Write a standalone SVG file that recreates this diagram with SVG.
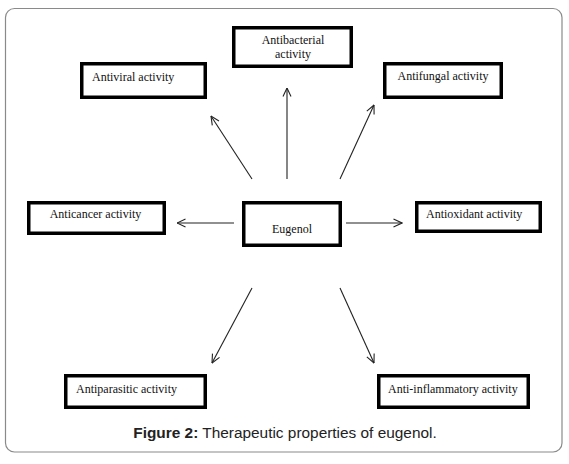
<svg xmlns="http://www.w3.org/2000/svg" width="569" height="464" viewBox="0 0 569 464">
  <style>
    .box { fill: #fff; stroke: #000; stroke-width: 3.5; }
    .lbl { font-family: "Liberation Serif", "Times New Roman", serif; font-size: 12px; fill: #111; }
    .mid { text-anchor: middle; }
    .conn { stroke: #222; stroke-width: 1.1; fill: none; marker-end: url(#arr); }
    .cap { font-family: "Liberation Sans", Arial, sans-serif; font-size: 15.4px; fill: #222; }
  </style>
  <defs>
    <marker id="arr" viewBox="0 0 10 10" refX="9.5" refY="5" markerWidth="10" markerHeight="10" markerUnits="userSpaceOnUse" orient="auto">
      <path d="M1,1 L9.5,5 L1,9" fill="none" stroke="#222" stroke-width="1.1"/>
    </marker>
  </defs>
  <rect x="5.5" y="8.5" width="556.5" height="443.5" rx="9" ry="9" fill="#fff" stroke="#8a8a8a" stroke-width="1.2"/>

  <g id="connectors">
    <line class="conn" x1="287" y1="179" x2="287" y2="88"/>
    <line class="conn" x1="252" y1="179" x2="211" y2="116"/>
    <line class="conn" x1="340" y1="179" x2="374" y2="105"/>
    <line class="conn" x1="234" y1="223" x2="177" y2="223"/>
    <line class="conn" x1="346" y1="223" x2="402" y2="223"/>
    <line class="conn" x1="252" y1="288" x2="212" y2="363"/>
    <line class="conn" x1="340" y1="288" x2="374" y2="363"/>
  </g>

  <g id="antibacterial">
    <rect class="box" x="233.75" y="27.75" width="117.5" height="38.5"/>
    <text class="lbl mid" x="293" y="44">Antibacterial</text>
    <text class="lbl mid" x="293" y="58">activity</text>
  </g>
  <g id="antiviral">
    <rect class="box" x="81.75" y="63.75" width="123.5" height="33.5"/>
    <text class="lbl" x="92" y="81">Antiviral activity</text>
  </g>
  <g id="antifungal">
    <rect class="box" x="384.75" y="63.75" width="116.5" height="33.5"/>
    <text class="lbl mid" x="443" y="80">Antifungal activity</text>
  </g>
  <g id="anticancer">
    <rect class="box" x="28.75" y="202.75" width="135.5" height="30.5"/>
    <text class="lbl mid" x="95.5" y="218">Anticancer activity</text>
  </g>
  <g id="eugenol">
    <rect class="box" x="243.75" y="202.75" width="96.5" height="42.5"/>
    <text class="lbl mid" x="292" y="233">Eugenol</text>
  </g>
  <g id="antioxidant">
    <rect class="box" x="416.75" y="202.75" width="123.5" height="28.5"/>
    <text class="lbl" x="426" y="218">Antioxidant activity</text>
  </g>
  <g id="antiparasitic">
    <rect class="box" x="65.75" y="375.75" width="139.5" height="31.5"/>
    <text class="lbl" x="76" y="393">Antiparasitic activity</text>
  </g>
  <g id="antiinflammatory">
    <rect class="box" x="378.75" y="375.75" width="149.5" height="31.5"/>
    <text class="lbl" x="388" y="393">Anti-inflammatory activity</text>
  </g>

  <text class="cap" x="285" y="438" text-anchor="middle"><tspan font-weight="bold">Figure 2:</tspan> Therapeutic properties of eugenol.</text>
</svg>
